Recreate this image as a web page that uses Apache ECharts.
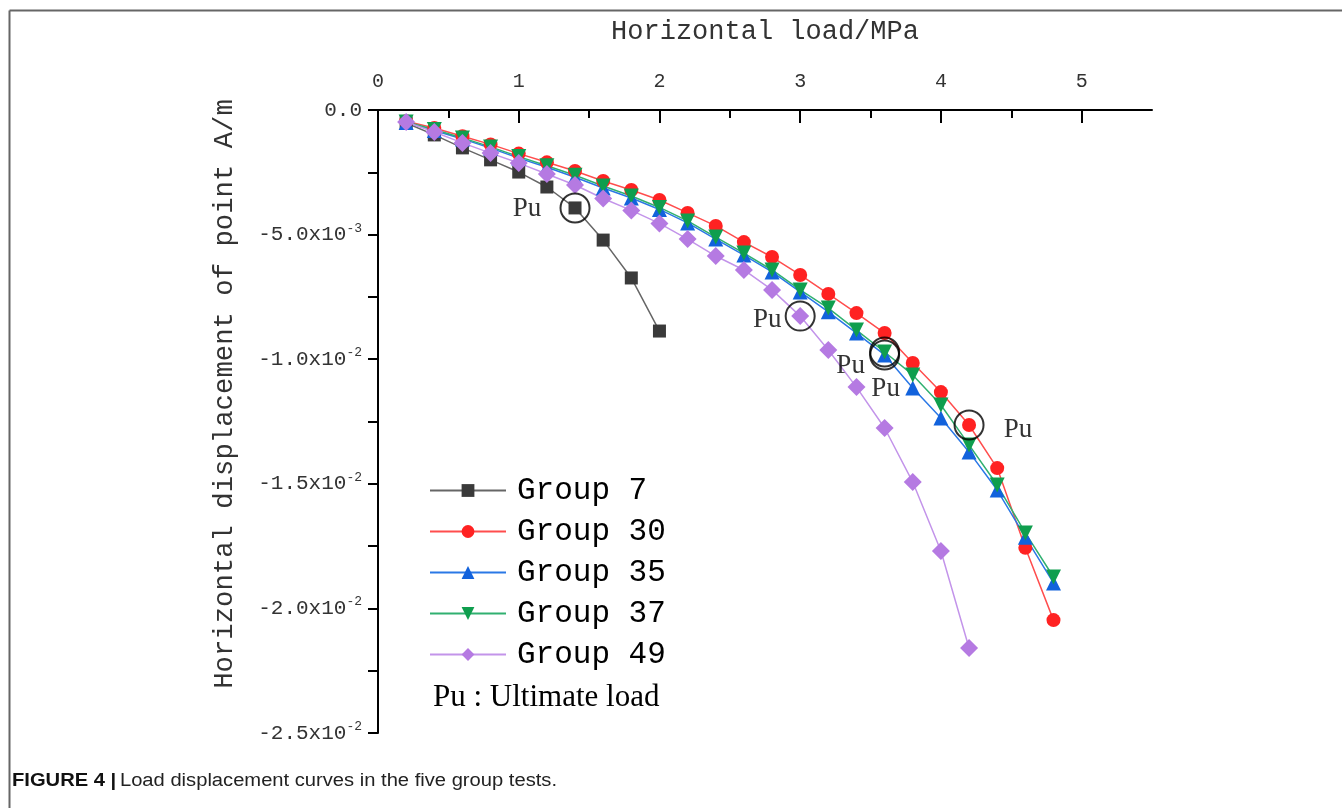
<!DOCTYPE html>
<html>
<head>
<meta charset="utf-8">
<script src="https://cdn.jsdelivr.net/npm/echarts@6/dist/echarts.min.js"></script>
<style>
  html, body { margin: 0; padding: 0; background: #fff; }
  #chart { width: 1342px; height: 808px; }
</style>
</head>
<body>
<div id="chart"></div>
<script>
// horizontal load (MPa)
const loads = [0.2, 0.4, 0.6, 0.8, 1.0, 1.2, 1.4, 1.6, 1.8, 2.0, 2.2, 2.4,
  2.6, 2.8, 3.0, 3.2, 3.4, 3.6, 3.8, 4.0, 4.2, 4.4, 4.6, 4.8]

// displacement, in units of 1e-3 m
const group7 = [-0.52, -1.0, -1.52, -2.0, -2.49, -3.09, -3.93, -5.22, -6.74, -8.87]
const group30 = [-0.45, -0.72, -1.05, -1.38, -1.75, -2.1, -2.45, -2.85, -3.21, -3.61, -4.13, -4.65,
  -5.3, -5.9, -6.62, -7.38, -8.15, -8.95, -10.15, -11.32, -12.64, -14.37, -17.57, -20.47]
const group35 = [-0.5, -0.82, -1.16, -1.53, -1.93, -2.3, -2.7, -3.13, -3.53, -3.99, -4.53, -5.18,
  -5.82, -6.5, -7.3, -8.1, -8.95, -9.83, -11.16, -12.36, -13.72, -15.25, -17.14, -18.98]
const group37 = [-0.48, -0.78, -1.12, -1.48, -1.87, -2.24, -2.62, -3.05, -3.45, -3.91, -4.45, -5.1,
  -5.74, -6.42, -7.22, -7.95, -8.83, -9.71, -10.63, -11.84, -13.44, -15.05, -16.97, -18.74]
const group49 = [-0.48, -0.88, -1.32, -1.73, -2.13, -2.57, -3.01, -3.55, -4.03, -4.55, -5.18, -5.86,
  -6.42, -7.22, -8.27, -9.63, -11.12, -12.76, -14.93, -17.7, -21.59]

// ultimate load point (index into loads) for each group
const puIndex = {group7: 6, group30: 20, group35: 17, group37: 17, group49: 14}

const xTicks = [0, 1, 2, 3, 4, 5]
const xMinorTicks = [0.5, 1.5, 2.5, 3.5, 4.5]

const mono = '"Liberation Mono", "DejaVu Sans Mono", monospace'
const serif = '"Liberation Serif", "DejaVu Serif", serif'
const sans = '"Liberation Sans", Arial, sans-serif'

function pairs(arr) {
  return arr.map((v, i) => [loads[i], v / 1000])
}

function yLabel(v) {
  if (v === 0) return '{m|0.0}'
  const e = Math.floor(Math.log10(Math.abs(v)) + 1e-9)
  const m = v / Math.pow(10, e)
  return '{m|' + m.toFixed(1) + 'x10}{s|' + e + '}'
}

const chart = echarts.init(document.getElementById('chart'))

function lineSeries(name, arr, symbol, size, color, lineColor, rotate) {
  return {
    name: name,
    type: 'line',
    data: pairs(arr),
    symbol: symbol,
    symbolSize: size,
    symbolRotate: rotate || 0,
    itemStyle: {color: color},
    lineStyle: {color: lineColor, width: 1.5},
    emphasis: {disabled: true}
  }
}

const puData = [
  {value: [loads[puIndex.group7], group7[puIndex.group7] / 1000], label: {offset: [-48, 1]}},
  {value: [loads[puIndex.group49], group49[puIndex.group49] / 1000], label: {offset: [-33, 4]}},
  {value: [loads[puIndex.group37], group37[puIndex.group37] / 1000], label: {offset: [-34, 14]}},
  {value: [loads[puIndex.group35], group35[puIndex.group35] / 1000], label: {offset: [1, 34]}},
  {value: [loads[puIndex.group30], group30[puIndex.group30] / 1000], label: {offset: [49, 5]}}
]

const option = {
  backgroundColor: '#fff',
  animation: false,
  grid: {left: 378, top: 110, width: 774, height: 623, containLabel: false},
  xAxis: [{
    type: 'value',
    position: 'top',
    min: 0,
    max: 5.5,
    interval: 1,
    name: 'Horizontal load/MPa',
    nameLocation: 'middle',
    nameGap: 65,
    nameTextStyle: {fontFamily: mono, fontSize: 27, color: '#333'},
    axisLine: {lineStyle: {color: '#000', width: 2}},
    axisTick: {inside: true, length: 13, customValues: xTicks, lineStyle: {color: '#000', width: 2}},
    axisLabel: {margin: 18, fontFamily: mono, fontSize: 20, color: '#333', customValues: xTicks},
    splitLine: {show: false}
  }, {
    // half-unit ticks only
    type: 'value',
    position: 'top',
    min: 0,
    max: 5.5,
    interval: 0.5,
    axisLine: {show: false},
    axisTick: {inside: true, length: 8, customValues: xMinorTicks, lineStyle: {color: '#000', width: 2}},
    axisLabel: {show: false},
    splitLine: {show: false}
  }],
  yAxis: {
    type: 'value',
    min: -0.025,
    max: 0,
    interval: 0.005,
    axisLine: {lineStyle: {color: '#000', width: 2}},
    axisTick: {length: 10, lineStyle: {color: '#000', width: 2}},
    minorTick: {show: true, splitNumber: 2, length: 10, lineStyle: {color: '#000', width: 2}},
    axisLabel: {
      margin: 16,
      formatter: yLabel,
      rich: {
        m: {fontFamily: mono, fontSize: 21, color: '#333', lineHeight: 26},
        s: {fontFamily: mono, fontSize: 13, color: '#333', verticalAlign: 'top', lineHeight: 26, padding: [0, 0, 12, 0]}
      }
    },
    splitLine: {show: false}
  },
  legend: {
    orient: 'vertical',
    left: 424,
    top: 470,
    itemWidth: 76,
    itemHeight: 16,
    itemGap: 10,
    textStyle: {fontFamily: mono, fontSize: 31, color: '#000', lineHeight: 31, padding: [0, 0, 0, 6]},
    data: ['Group 7', 'Group 30', 'Group 35', 'Group 37', 'Group 49']
  },
  series: [
    lineSeries('Group 7', group7, 'rect', 13, '#3a3a3a', '#666'),
    lineSeries('Group 30', group30, 'circle', 14, '#ff2222', '#ff4d4d'),
    lineSeries('Group 35', group35, 'triangle', 15, '#1262dc', '#2a78e6'),
    lineSeries('Group 37', group37, 'triangle', 15, '#0f9e4e', '#30b070', 180),
    lineSeries('Group 49', group49, 'diamond', 18, '#b57ae2', '#c394ea'),
    {
      name: 'Pu',
      type: 'scatter',
      data: puData,
      symbol: 'circle',
      symbolSize: 29,
      itemStyle: {color: 'rgba(0,0,0,0)', borderColor: '#000', borderWidth: 2},
      label: {
        show: true,
        formatter: 'Pu',
        position: 'inside',
        fontFamily: serif,
        fontSize: 27,
        color: '#000'
      },
      emphasis: {disabled: true},
      z: 5
    }
  ],
  graphic: [
    {type: 'line', shape: {x1: 9.5, y1: 10.5, x2: 1342, y2: 10.5}, style: {stroke: '#666', lineWidth: 2}},
    {type: 'line', shape: {x1: 9.5, y1: 10.5, x2: 9.5, y2: 808}, style: {stroke: '#666', lineWidth: 2}},
    {
      type: 'text', x: 225, y: 394, rotation: Math.PI / 2,
      style: {
        text: 'Horizontal displacement of point A/m', fontFamily: mono, fontSize: 27.3,
        fill: '#333', align: 'center', verticalAlign: 'middle'
      }
    },
    {
      type: 'text', left: 433, top: 682,
      style: {text: 'Pu : Ultimate load', fontFamily: serif, fontSize: 31, fill: '#000'}
    },
    {
      type: 'text', x: 12, y: 772, scaleX: 1.12,
      style: {
        text: '{b|FIGURE 4 |} {n|Load displacement curves in the five group tests.}',
        rich: {
          b: {fontFamily: sans, fontWeight: 'bold', fontSize: 18, fill: '#111'},
          n: {fontFamily: sans, fontSize: 18, fill: '#222'}
        }
      }
    }
  ]
}

chart.setOption(option)
</script>
</body>
</html>
